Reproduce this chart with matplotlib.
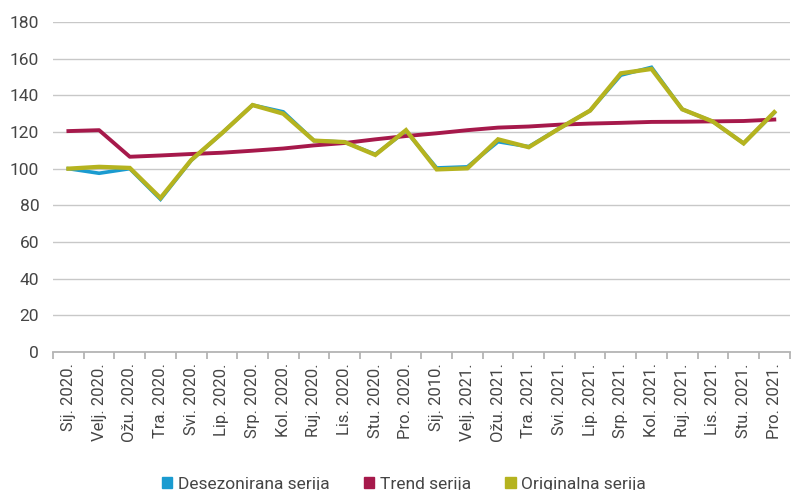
import matplotlib
matplotlib.use("Agg")
import matplotlib.pyplot as plt
from matplotlib.ticker import FixedLocator
import numpy as np

categories = ["Sij. 2020.", "Velj. 2020.", "Ožu. 2020.", "Tra. 2020.", "Svi. 2020.", "Lip. 2020.",
              "Srp. 2020.", "Kol. 2020.", "Ruj. 2020.", "Lis. 2020.", "Stu. 2020.", "Pro. 2020.",
              "Sij. 2010.", "Velj. 2021.", "Ožu. 2021.", "Tra. 2021.", "Svi. 2021.", "Lip. 2021.",
              "Srp. 2021.", "Kol. 2021.", "Ruj. 2021.", "Lis. 2021.", "Stu. 2021.", "Pro. 2021."]

desezonirana = [100.0, 97.5, 100.0, 83.3, 104.5, 119.3, 134.7, 131.0, 115.3, 114.5, 107.8, 120.5,
                100.4, 101.0, 114.7, 112.0, 122.0, 131.7, 151.0, 155.3, 132.4, 125.7, 113.8, 130.5]
trend = [120.5, 121.0, 106.5, 107.2, 108.0, 108.7, 109.8, 111.0, 112.7, 114.0, 116.0, 117.8,
         119.3, 121.0, 122.4, 123.0, 124.0, 124.6, 125.0, 125.5, 125.6, 125.8, 126.0, 126.8]
originalna = [100.0, 101.0, 100.4, 84.0, 104.7, 119.3, 134.7, 130.0, 115.3, 114.5, 107.5, 121.0,
              99.6, 100.2, 116.0, 111.7, 122.0, 131.7, 152.0, 154.4, 132.4, 125.7, 113.8, 130.8]

names = ["Desezonirana serija", "Trend serija", "Originalna serija"]
colors = ["#1A9BD0", "#A6194B", "#B5B31F"]

plt.rcParams['font.family'] = ['Roboto', 'DejaVu Sans']
txt = "#454545"

fig = plt.figure(figsize=(7.92, 4.90), dpi=100)
ax = fig.add_axes([0.067, 0.2816, 0.93, 0.6735])

x = np.arange(len(categories))
ax.plot(x, desezonirana, color=colors[0], lw=2.6, zorder=3, solid_joinstyle='miter')
ax.plot(x, trend, color=colors[1], lw=2.8, zorder=4)
ax.plot(x, originalna, color=colors[2], lw=3.1, zorder=5, solid_joinstyle='miter')

ax.set_xlim(-0.5, len(categories) - 0.5)
ax.set_ylim(0, 180)
ax.set_yticks(np.arange(0, 181, 20))
ax.yaxis.grid(True, color="#C8C8C8", lw=1.0)
ax.set_axisbelow(True)
for s in ["left", "right", "top"]:
    ax.spines[s].set_visible(False)
ax.spines["bottom"].set_color("#B4B4B4")
ax.spines["bottom"].set_linewidth(1.3)
ax.tick_params(axis='y', length=0, pad=10, labelsize=12.5, labelcolor=txt)

ax.set_xticks(x)
ax.set_xticklabels(categories, rotation=90, fontsize=12, color=txt)
ax.tick_params(axis='x', which='major', length=0, pad=8)
ax.xaxis.set_minor_locator(FixedLocator(np.arange(-0.5, len(categories), 1.0)))
ax.tick_params(axis='x', which='minor', length=5, width=1.3, color="#B4B4B4", direction='out')

handles = [plt.Rectangle((0, 0), 1, 1, color=c) for c in colors]
fig.legend(handles, names, loc='lower center', bbox_to_anchor=(0.51, -0.035), ncol=3,
           frameon=False, fontsize=12.5, handlelength=0.6, handleheight=0.6,
           handletextpad=0.3, columnspacing=2.0, labelcolor=txt)

fig.savefig("out.png", dpi=100)
